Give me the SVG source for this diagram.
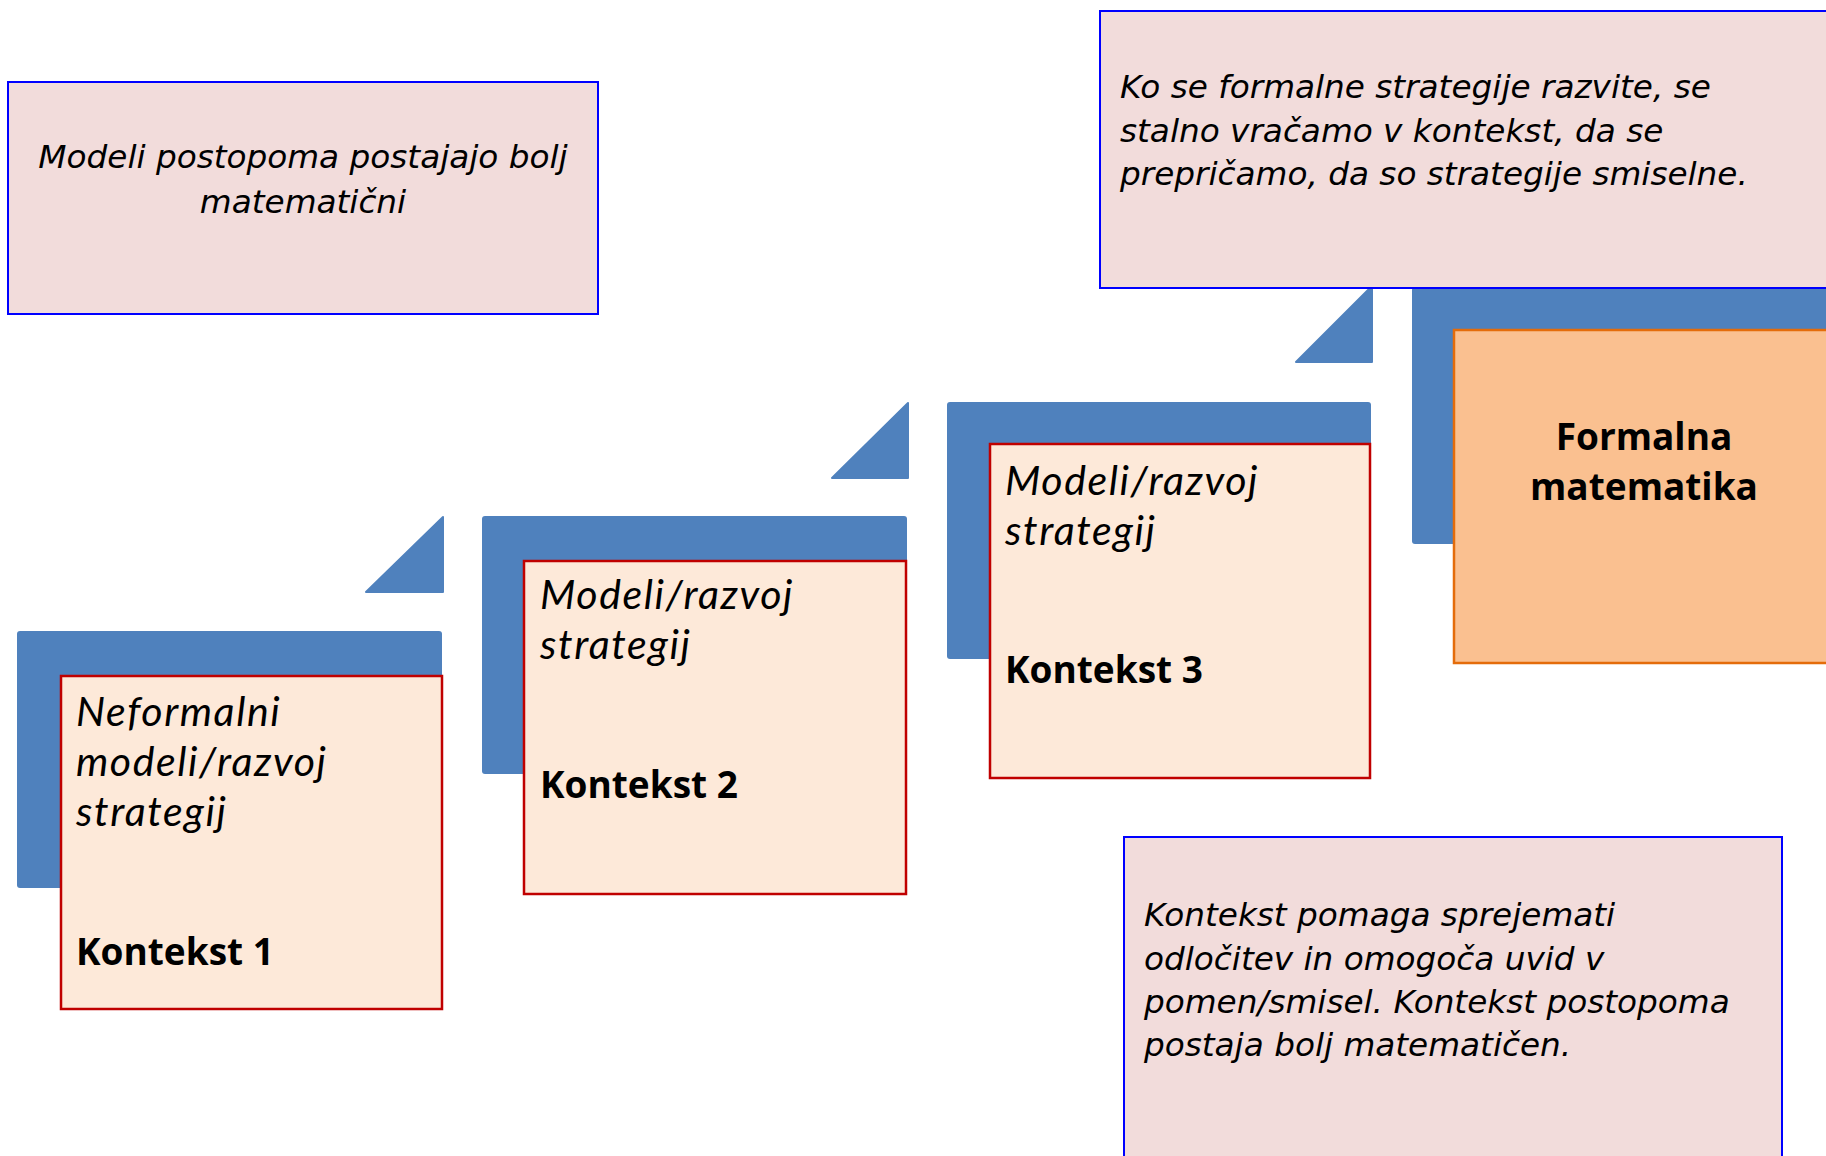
<svg xmlns="http://www.w3.org/2000/svg" width="1826" height="1156" viewBox="0 0 1826 1156">
<style>
.bg{fill:#4F81BD}
.card{fill:#FDE9D9;stroke:#C00000;stroke-width:2.5}
.orange{fill:#FAC090;stroke:#E46C0A;stroke-width:2.5}
.note{fill:#F2DCDB;stroke:#0000FF;stroke-width:2}
.nt{font-family:"DejaVu Sans",Verdana,sans-serif;font-style:italic;font-size:32.7px;fill:#000}
.it{font-family:Lato,"Open Sans",sans-serif;font-style:italic;font-size:41px;letter-spacing:1.6px;fill:#000}
.bd{font-family:"Open Sans","Noto Sans",sans-serif;font-weight:bold;font-size:37px;fill:#000}
</style>
<rect width="1826" height="1156" fill="#FFFFFF"/>
<g id="connectors">
<polygon class="bg" points="443,517 443,592 366,592" stroke="#4F81BD" stroke-width="2" stroke-linejoin="round"/>
<polygon class="bg" points="908,403 908,478 832,478" stroke="#4F81BD" stroke-width="2" stroke-linejoin="round"/>
<polygon class="bg" points="1372,286 1372,362 1296,362" stroke="#4F81BD" stroke-width="2" stroke-linejoin="round"/>
</g>
<g id="step1">
<rect class="bg" x="17" y="631" width="425" height="257" rx="3"/>
<rect class="card" x="61" y="676" width="381" height="333"/>
<text class="it" x="76" y="726">Neformalni</text>
<text class="it" x="76" y="776">modeli/razvoj</text>
<text class="it" x="76" y="826">strategij</text>
<text class="bd" x="76" y="965">Kontekst 1</text>
</g>
<g id="step2">
<rect class="bg" x="482" y="516" width="425" height="258" rx="3"/>
<rect class="card" x="524" y="561" width="382" height="333"/>
<text class="it" x="540" y="609">Modeli/razvoj</text>
<text class="it" x="540" y="659">strategij</text>
<text class="bd" x="540" y="798">Kontekst 2</text>
</g>
<g id="step3">
<rect class="bg" x="947" y="402" width="424" height="257" rx="3"/>
<rect class="card" x="990" y="444" width="380" height="334"/>
<text class="it" x="1005" y="495">Modeli/razvoj</text>
<text class="it" x="1005" y="545">strategij</text>
<text class="bd" x="1005" y="683">Kontekst 3</text>
</g>
<g id="formal">
<rect class="bg" x="1412" y="287" width="424" height="257" rx="3"/>
<rect class="orange" x="1454" y="330" width="382" height="333"/>
<text class="bd" x="1644" y="450" text-anchor="middle">Formalna</text>
<text class="bd" x="1644" y="500" text-anchor="middle">matematika</text>
</g>
<g id="note-models">
<rect class="note" x="8" y="82" width="590" height="232"/>
<text class="nt" x="303" y="168" text-anchor="middle">Modeli postopoma postajajo bolj</text>
<text class="nt" x="303" y="213" text-anchor="middle">matematični</text>
</g>
<g id="note-formal">
<rect class="note" x="1100" y="11" width="740" height="277"/>
<text class="nt" x="1120" y="98">Ko se formalne strategije razvite, se</text>
<text class="nt" x="1120" y="142">stalno vračamo v kontekst, da se</text>
<text class="nt" x="1120" y="185">prepričamo, da so strategije smiselne.</text>
</g>
<g id="note-context">
<rect class="note" x="1124" y="837" width="658" height="330"/>
<text class="nt" x="1144" y="926">Kontekst pomaga sprejemati</text>
<text class="nt" x="1144" y="970">odločitev in omogoča uvid v</text>
<text class="nt" x="1144" y="1013">pomen/smisel. Kontekst postopoma</text>
<text class="nt" x="1144" y="1056">postaja bolj matematičen.</text>
</g>
</svg>
